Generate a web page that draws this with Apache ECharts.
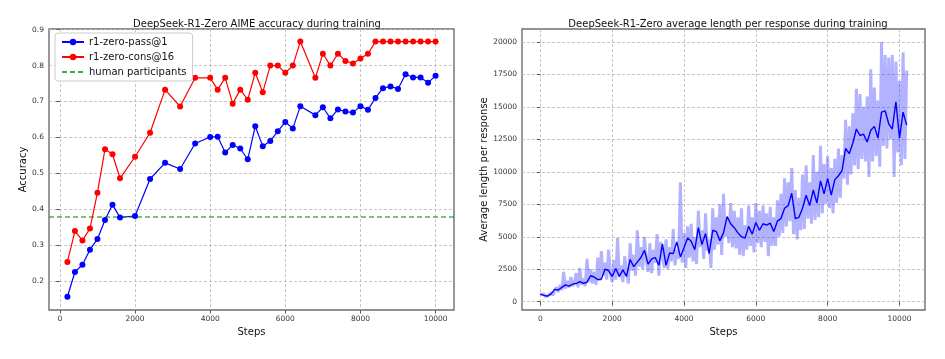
<!DOCTYPE html>
<html>
<head>
<meta charset="utf-8">
<script src="https://cdn.jsdelivr.net/npm/echarts@6/dist/echarts.min.js"></script>
<style>
  html, body { margin: 0; padding: 0; background: #fff; }
  #chart { width: 945px; height: 359px; }
</style>
</head>
<body>
<div id="chart"></div>
<script>
// left panel: AIME accuracy
var evalSteps = [200, 400, 600, 800, 1000, 1200, 1400, 1600, 2000, 2400, 2800, 3200, 3600,
  4000, 4200, 4400, 4600, 4800, 5000, 5200, 5400, 5600, 5800, 6000, 6200, 6400,
  6800, 7000, 7200, 7400, 7600, 7800, 8000, 8200, 8400, 8600, 8800, 9000, 9200, 9400, 9600, 9800, 10000]
var passAt1 = [0.156, 0.225, 0.245, 0.287, 0.317, 0.370, 0.412, 0.377, 0.381, 0.484, 0.529, 0.512, 0.583,
  0.601, 0.602, 0.558, 0.579, 0.569, 0.539, 0.631, 0.575, 0.590, 0.617, 0.643, 0.625, 0.687,
  0.662, 0.684, 0.653, 0.678, 0.672, 0.669, 0.687, 0.677, 0.710, 0.737, 0.742, 0.735, 0.776, 0.767, 0.767, 0.752, 0.772]
var consAt16 = [0.253, 0.339, 0.313, 0.346, 0.446, 0.567, 0.553, 0.486, 0.546, 0.613, 0.733, 0.686, 0.766,
  0.766, 0.733, 0.766, 0.694, 0.733, 0.705, 0.780, 0.726, 0.800, 0.800, 0.780, 0.800, 0.867,
  0.766, 0.833, 0.800, 0.833, 0.813, 0.806, 0.820, 0.833, 0.867, 0.867, 0.867, 0.867, 0.867, 0.867, 0.867, 0.867, 0.867]
var humanLevel = 0.378
var accXTicks = [0, 2000, 4000, 6000, 8000, 10000]
var accYTicks = [0.2, 0.3, 0.4, 0.5, 0.6, 0.7, 0.8, 0.9]

// right panel: response length (smoothed every 100 steps, raw every 50 steps)
var meanEvery = 100
var meanLength = [580, 480, 430, 600, 950, 900, 1100, 1300, 1200, 1350,
  1400, 1550, 1420, 1500, 2000, 1900, 1700, 1750, 2500, 2400,
  1950, 2550, 1950, 2450, 1950, 3250, 2700, 3050, 3400, 3950,
  2900, 3300, 3400, 2800, 4450, 2800, 3750, 3700, 4600, 3450,
  4150, 4900, 4650, 4000, 5700, 4400, 5250, 3700, 5500, 5400,
  4700, 5300, 6550, 6000, 5700, 5300, 5000, 4900, 5800, 5200,
  6100, 5500, 6000, 5900, 6050, 5400, 6200, 6400, 7200, 7400,
  8350, 6400, 6500, 7200, 8200, 7400, 8600, 7600, 9300, 8300,
  9500, 8200, 9400, 9700, 10100, 11800, 11400, 12200, 13300, 12800,
  12900, 12300, 13200, 13500, 12600, 14600, 14700, 13700, 13300, 15400,
  12600, 14600, 13600]
var rawEvery = 50
var rawLength = [550, 420, 600, 380, 350, 520, 700, 480, 900, 1100,
  750, 1300, 900, 2300, 1000, 1600, 1100, 1900, 1200, 1500,
  2200, 1100, 2600, 1300, 1800, 1200, 3300, 1500, 2500, 1400,
  2300, 1300, 3400, 1600, 3900, 2000, 3000, 1700, 4000, 2200,
  1500, 3200, 1700, 4900, 1900, 2800, 1500, 3500, 2300, 1400,
  4500, 2400, 3600, 2000, 5500, 2700, 4200, 2500, 5000, 3200,
  2300, 4500, 2200, 4000, 3000, 5200, 2000, 4600, 3500, 2600,
  4800, 2500, 4200, 3100, 5600, 2800, 4000, 3300, 9200, 3000,
  5300, 2600, 5800, 3400, 6000, 3100, 5000, 2900, 7000, 4200,
  5500, 3300, 6800, 3900, 4800, 2600, 7200, 4000, 6500, 4400,
  7500, 3600, 8300, 5000, 6500, 4500, 7600, 4200, 7000, 4100,
  6500, 3600, 7200, 3500, 5900, 4000, 7400, 4300, 6500, 3800,
  7600, 4500, 7000, 4200, 7400, 4600, 6800, 3500, 7300, 4300,
  6500, 4300, 7800, 5000, 8300, 5300, 9500, 5800, 9200, 6200,
  10300, 5200, 8600, 4800, 8000, 5500, 9800, 5600, 10500, 6400,
  9200, 6000, 11300, 6300, 10000, 6500, 12000, 6800, 10600, 7500,
  11200, 7200, 10300, 6800, 11000, 7600, 11800, 8000, 11300, 9500,
  14000, 9000, 13500, 9800, 14500, 10500, 16400, 10200, 16000, 11000,
  15000, 10800, 15800, 9600, 17900, 10800, 16500, 11200, 15500, 10400,
  20000, 12000, 19000, 11800, 18800, 12500, 19000, 9600, 18500, 11500,
  17000, 10500, 19200, 11000, 17800]
var lenXTicks = [0, 2000, 4000, 6000, 8000, 10000]
var lenYTicks = [0, 2500, 5000, 7500, 10000, 12500, 15000, 17500, 20000]

var font = 'DejaVu Sans'
var accXRange = [-290, 10490]

function pairs (xs, ys) {
  return ys.map(function (y, i) { return [xs[i], y] })
}
function stepPairs (every, ys) {
  return ys.map(function (y, i) { return [i * every, y] })
}
function plain (v) { return String(v) }

function valueAxis (idx, min, max, ticks, name, gap, fmt) {
  return {
    type: 'value',
    gridIndex: idx,
    min: min,
    max: max,
    name: name,
    nameLocation: 'middle',
    nameGap: gap,
    nameTextStyle: { fontFamily: font, fontSize: 10, color: '#111' },
    axisLine: { show: false },
    axisTick: { show: true, length: 3.5, lineStyle: { color: '#555' }, customValues: ticks },
    axisLabel: { fontFamily: font, fontSize: 7.5, color: '#333', margin: 5, customValues: ticks, formatter: fmt || plain },
    splitLine: { show: true, lineStyle: { color: '#b8b8b8', type: [3, 2], width: 0.8 } }
  }
}

var chart = echarts.init(document.getElementById('chart'))
var option = {
  animation: false,
  title: [
    {
      text: 'DeepSeek-R1-Zero AIME accuracy during training',
      left: 252, top: 14, textAlign: 'center',
      textStyle: { fontFamily: font, fontSize: 10, fontWeight: 'normal', color: '#111' }
    },
    {
      text: 'DeepSeek-R1-Zero average length per response during training',
      left: 723, top: 14, textAlign: 'center',
      textStyle: { fontFamily: font, fontSize: 10, fontWeight: 'normal', color: '#111' }
    }
  ],
  legend: {
    data: [
      'r1-zero-pass@1',
      'r1-zero-cons@16',
      { name: 'human participants', itemStyle: { opacity: 0 }, lineStyle: { color: '#3cae3c' } }
    ],
    orient: 'vertical',
    left: 55,
    top: 33,
    itemGap: 5,
    itemWidth: 22,
    itemHeight: 8,
    padding: [4, 6],
    backgroundColor: '#fff',
    borderColor: '#ccc',
    borderWidth: 1,
    borderRadius: 3,
    textStyle: { fontFamily: font, fontSize: 10, color: '#111' }
  },
  grid: [
    { left: 49, top: 29, width: 405, height: 281, show: true, borderColor: '#6e6e6e', borderWidth: 1.4 },
    { left: 522, top: 29, width: 403, height: 281, show: true, borderColor: '#6e6e6e', borderWidth: 1.4 }
  ],
  xAxis: [
    valueAxis(0, accXRange[0], accXRange[1], accXTicks, 'Steps', 10),
    valueAxis(1, -510, 10710, lenXTicks, 'Steps', 10)
  ],
  yAxis: [
    valueAxis(0, 0.119, 0.902, accYTicks, 'Accuracy', 19, function (v) { return v.toFixed(1) }),
    valueAxis(1, -640, 21000, lenYTicks, 'Average length per response', 30)
  ],
  series: [
    {
      name: 'r1-zero-pass@1',
      type: 'line',
      xAxisIndex: 0, yAxisIndex: 0,
      data: pairs(evalSteps, passAt1),
      symbol: 'circle', symbolSize: 6,
      itemStyle: { color: '#0000ff' },
      lineStyle: { color: '#0000ff', width: 1.2 }
    },
    {
      name: 'r1-zero-cons@16',
      type: 'line',
      xAxisIndex: 0, yAxisIndex: 0,
      data: pairs(evalSteps, consAt16),
      symbol: 'circle', symbolSize: 6,
      itemStyle: { color: '#ff0000' },
      lineStyle: { color: '#ff0000', width: 1.2 }
    },
    {
      name: 'human participants',
      type: 'line',
      xAxisIndex: 0, yAxisIndex: 0,
      data: [[accXRange[0], humanLevel], [accXRange[1], humanLevel]],
      symbol: 'none',
      itemStyle: { color: '#008000' },
      lineStyle: { color: '#008000', width: 1.1, type: [5, 3] }
    },
    {
      name: 'raw',
      type: 'line',
      xAxisIndex: 1, yAxisIndex: 1,
      data: stepPairs(rawEvery, rawLength),
      symbol: 'none',
      lineStyle: { color: '#0000ff', width: 3, opacity: 0.3, join: 'bevel' }
    },
    {
      name: 'mean',
      type: 'line',
      xAxisIndex: 1, yAxisIndex: 1,
      data: stepPairs(meanEvery, meanLength),
      symbol: 'none',
      lineStyle: { color: '#0000ff', width: 1.4 }
    }
  ]
}
option && chart.setOption(option)
</script>
</body>
</html>
